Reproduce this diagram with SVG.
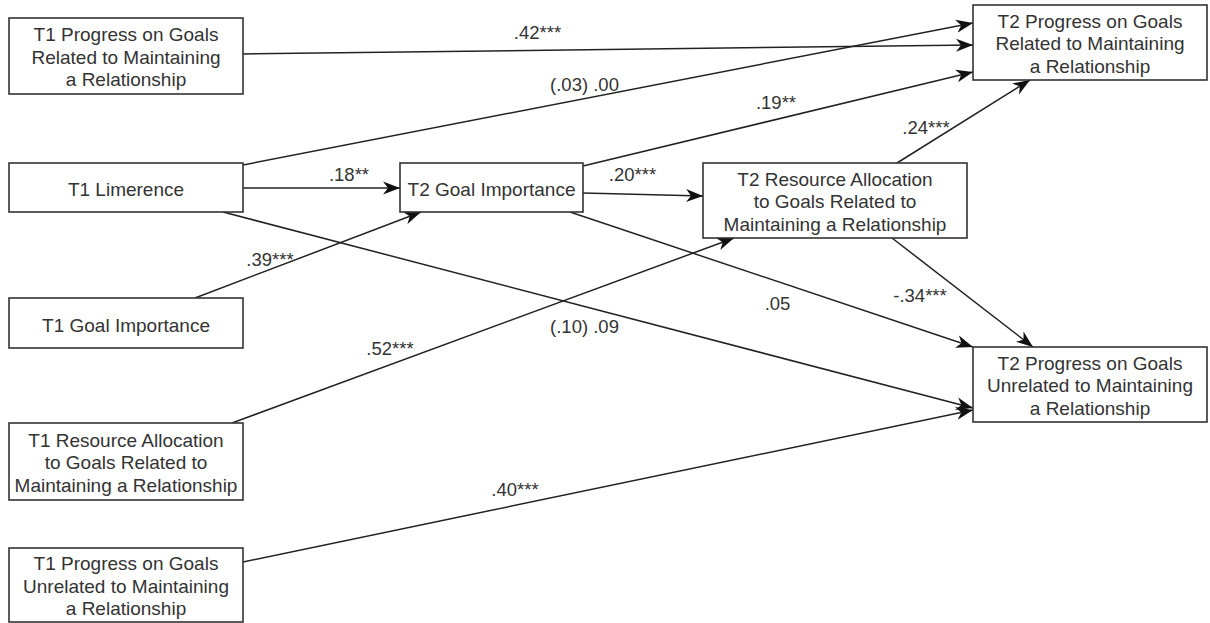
<svg xmlns="http://www.w3.org/2000/svg" width="1210" height="623" viewBox="0 0 1210 623">
<style>
.box{fill:#fff;stroke:#333;stroke-width:1.6}
.t{font-family:"Liberation Sans",Arial,sans-serif;font-size:19px;fill:#333;text-anchor:middle}
.c{fill:none;stroke:#222;stroke-width:1.5;marker-end:url(#ah)}
.lbl{font-family:"Liberation Sans",Arial,sans-serif;font-size:18.5px;fill:#333;text-anchor:middle}
</style>
<defs>
<marker id="ah" markerUnits="userSpaceOnUse" markerWidth="18" markerHeight="14" refX="17" refY="7" orient="auto" viewBox="0 0 18 14">
<path d="M0,0.5 L17,7 L0,13.5 L5,7 z" fill="#111"/>
</marker>
</defs>
<rect width="1210" height="623" fill="#fff"/>
<g id="connectors">
<line class="c" x1="243" y1="54" x2="973" y2="45"/>
<line class="c" x1="243" y1="165" x2="973" y2="23"/>
<line class="c" x1="243" y1="188" x2="400" y2="188"/>
<line class="c" x1="583" y1="166" x2="973" y2="72"/>
<line class="c" x1="583" y1="193" x2="703" y2="196"/>
<line class="c" x1="195" y1="298" x2="421" y2="212"/>
<line class="c" x1="223" y1="212" x2="973" y2="408"/>
<line class="c" x1="232" y1="423" x2="734" y2="238"/>
<line class="c" x1="570" y1="212" x2="973" y2="347"/>
<line class="c" x1="897" y1="163" x2="1030" y2="80"/>
<line class="c" x1="892" y1="238" x2="1033" y2="347"/>
<line class="c" x1="243" y1="562" x2="973" y2="410"/>
<text class="lbl" x="537.5" y="39">.42***</text>
<text class="lbl" x="584.5" y="91">(.03)  .00</text>
<text class="lbl" x="776" y="109">.19**</text>
<text class="lbl" x="349" y="181">.18**</text>
<text class="lbl" x="632.5" y="181">.20***</text>
<text class="lbl" x="926" y="134">.24***</text>
<text class="lbl" x="270" y="266">.39***</text>
<text class="lbl" x="390" y="355">.52***</text>
<text class="lbl" x="584.5" y="333">(.10)  .09</text>
<text class="lbl" x="777.5" y="310">.05</text>
<text class="lbl" x="920" y="302">-.34***</text>
<text class="lbl" x="515" y="496">.40***</text>
</g>
<g id="t1-progress-related">
<rect class="box" x="9" y="18" width="234" height="76"/>
<text class="t" x="126" y="41">T1 Progress on Goals</text>
<text class="t" x="126" y="63.5">Related to Maintaining</text>
<text class="t" x="126" y="86">a Relationship</text>
</g>
<g id="t1-limerence">
<rect class="box" x="9" y="163" width="234" height="49"/>
<text class="t" x="126" y="196">T1 Limerence</text>
</g>
<g id="t1-goal-importance">
<rect class="box" x="9" y="298" width="234" height="50"/>
<text class="t" x="126" y="332">T1 Goal Importance</text>
</g>
<g id="t1-resource-allocation">
<rect class="box" x="9" y="423" width="234" height="77"/>
<text class="t" x="126" y="446.5">T1 Resource Allocation</text>
<text class="t" x="126" y="469">to Goals Related to</text>
<text class="t" x="126" y="491.5">Maintaining a Relationship</text>
</g>
<g id="t1-progress-unrelated">
<rect class="box" x="9" y="548" width="234" height="74"/>
<text class="t" x="126" y="570">T1 Progress on Goals</text>
<text class="t" x="126" y="592.5">Unrelated to Maintaining</text>
<text class="t" x="126" y="615">a Relationship</text>
</g>
<g id="t2-goal-importance">
<rect class="box" x="400" y="163" width="183" height="49"/>
<text class="t" x="491.5" y="196">T2 Goal Importance</text>
</g>
<g id="t2-resource-allocation">
<rect class="box" x="703" y="163" width="264" height="75"/>
<text class="t" x="835" y="185.5">T2 Resource Allocation</text>
<text class="t" x="835" y="208">to Goals Related to</text>
<text class="t" x="835" y="230.5">Maintaining a Relationship</text>
</g>
<g id="t2-progress-related">
<rect class="box" x="973" y="5" width="234" height="75"/>
<text class="t" x="1090" y="27.5">T2 Progress on Goals</text>
<text class="t" x="1090" y="50">Related to Maintaining</text>
<text class="t" x="1090" y="72.5">a Relationship</text>
</g>
<g id="t2-progress-unrelated">
<rect class="box" x="973" y="347" width="234" height="75"/>
<text class="t" x="1090" y="369.5">T2 Progress on Goals</text>
<text class="t" x="1090" y="392">Unrelated to Maintaining</text>
<text class="t" x="1090" y="414.5">a Relationship</text>
</g>
</svg>
